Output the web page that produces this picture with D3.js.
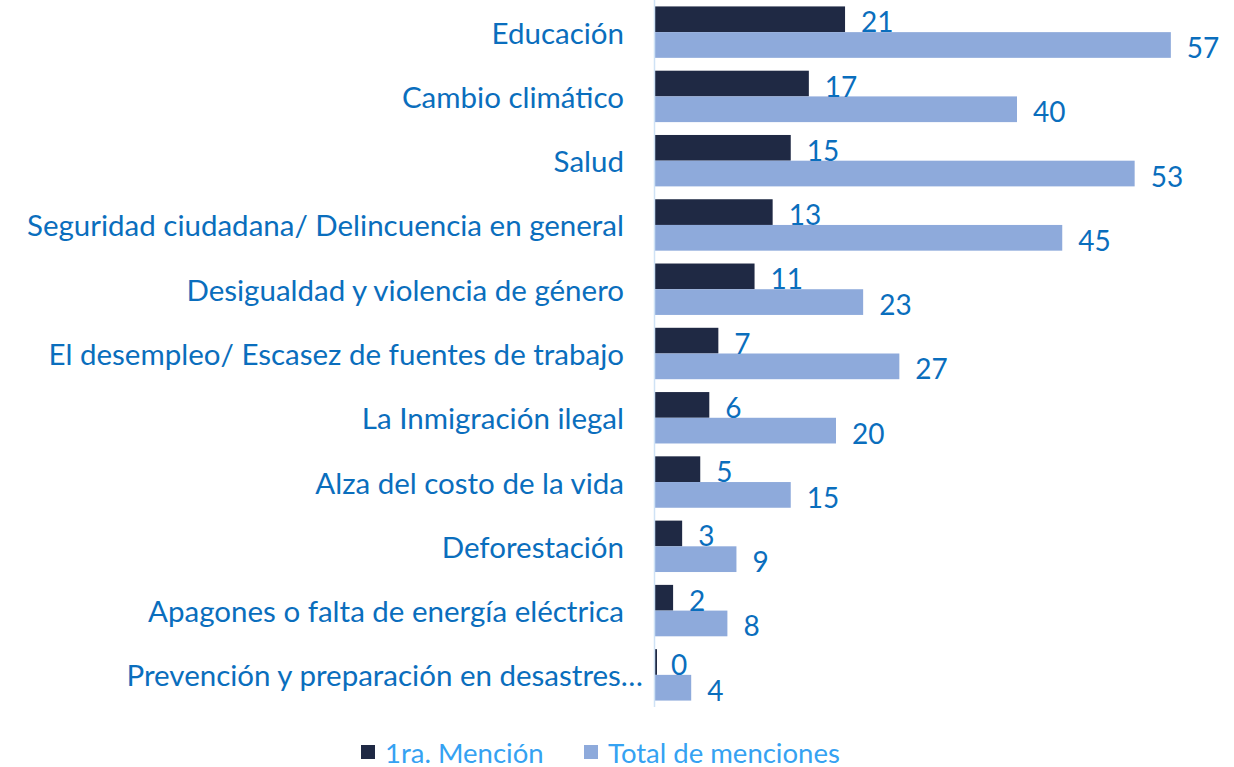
<!DOCTYPE html>
<meta charset="utf-8">
<style>
body {
	margin: 0;
	background-color: #ffffff;
}
text {
	font-family: Lato, "Open Sans", sans-serif;
}
</style>
<body>
<script src="https://cdnjs.cloudflare.com/ajax/libs/d3/7.8.5/d3.min.js"></script>
<script>
var width = 1234;
var height = 767;

var categories = [
	"Educación",
	"Cambio climático",
	"Salud",
	"Seguridad ciudadana/ Delincuencia en general",
	"Desigualdad y violencia de género",
	"El desempleo/ Escasez de fuentes de trabajo",
	"La Inmigración ilegal",
	"Alza del costo de la vida",
	"Deforestación",
	"Apagones o falta de energía eléctrica",
	"Prevención y preparación en desastres…"
];
var primera = [21, 17, 15, 13, 11, 7, 6, 5, 3, 2, 0];
var total = [57, 40, 53, 45, 23, 27, 20, 15, 9, 8, 4];
var seriesNames = ["1ra. Mención", "Total de menciones"];
var seriesColors = ["#1f2944", "#8eaadb"];

var labelColor = "#0a6ebd";
var legendColor = "#35a2f2";

var svg = d3.select("body")
	.append("svg")
	.attr("width", width)
	.attr("height", height);

var x = d3.scaleLinear()
	.domain([0, 60])
	.range([655, 1198]);

var y = d3.scaleBand()
	.domain(categories)
	.range([0, 707])
	.paddingInner(0.2)
	.paddingOuter(0.1);

var sub = d3.scaleBand()
	.domain([0, 1])
	.range([0, y.bandwidth()]);

var rows = categories.map(function(c, i) {
	return {cat: c, vals: [primera[i], total[i]]};
});

var g = svg.selectAll("g.row")
	.data(rows)
	.enter()
	.append("g")
	.attr("class", "row")
	.attr("transform", function(d) { return "translate(0," + y(d.cat) + ")"; });

// zero-length bars still show a thin sliver, like the original
g.selectAll("rect")
	.data(function(d) { return d.vals; })
	.enter()
	.append("rect")
	.attr("x", x(0))
	.attr("y", function(d, i) { return sub(i); })
	.attr("width", function(d) { return Math.max(x(d) - x(0), 2); })
	.attr("height", sub.bandwidth())
	.style("fill", function(d, i) { return seriesColors[i]; });

g.selectAll("text.val")
	.data(function(d) { return d.vals; })
	.enter()
	.append("text")
	.attr("class", "val")
	.attr("x", function(d) { return x(d) + 16; })
	.attr("y", function(d, i) { return sub(i) + sub.bandwidth() / 2 + 2; })
	.attr("dominant-baseline", "central")
	.style("font-size", "28px")
	.style("fill", labelColor)
	.text(function(d) { return d; });

// category labels (the truncated one runs a bit past the others)
svg.selectAll("text.cat")
	.data(categories)
	.enter()
	.append("text")
	.attr("class", "cat")
	.attr("x", function(d) { return d.slice(-1) == "…" ? 643 : 624; })
	.attr("y", function(d) { return y(d) + y.bandwidth() / 2; })
	.attr("text-anchor", "end")
	.attr("dominant-baseline", "central")
	.style("font-size", "29.5px")
	.style("fill", labelColor)
	.text(function(d) { return d; });

// axis line
svg.append("line")
	.attr("x1", x(0) - 0.5)
	.attr("x2", x(0) - 0.5)
	.attr("y1", 0)
	.attr("y2", 707)
	.style("stroke", "#cfe2f5")
	.style("stroke-width", 1.5);

// legend
var legendX = [361, 584];
var leg = svg.selectAll("g.legend")
	.data(seriesNames)
	.enter()
	.append("g")
	.attr("class", "legend")
	.attr("transform", function(d, i) { return "translate(" + legendX[i] + ",745)"; });

leg.append("rect")
	.attr("width", 14)
	.attr("height", 14)
	.style("fill", function(d, i) { return seriesColors[i]; });

leg.append("text")
	.attr("x", 24)
	.attr("y", 7)
	.attr("dominant-baseline", "central")
	.style("font-size", "27.5px")
	.style("fill", legendColor)
	.text(function(d) { return d; });
</script>
</body>
